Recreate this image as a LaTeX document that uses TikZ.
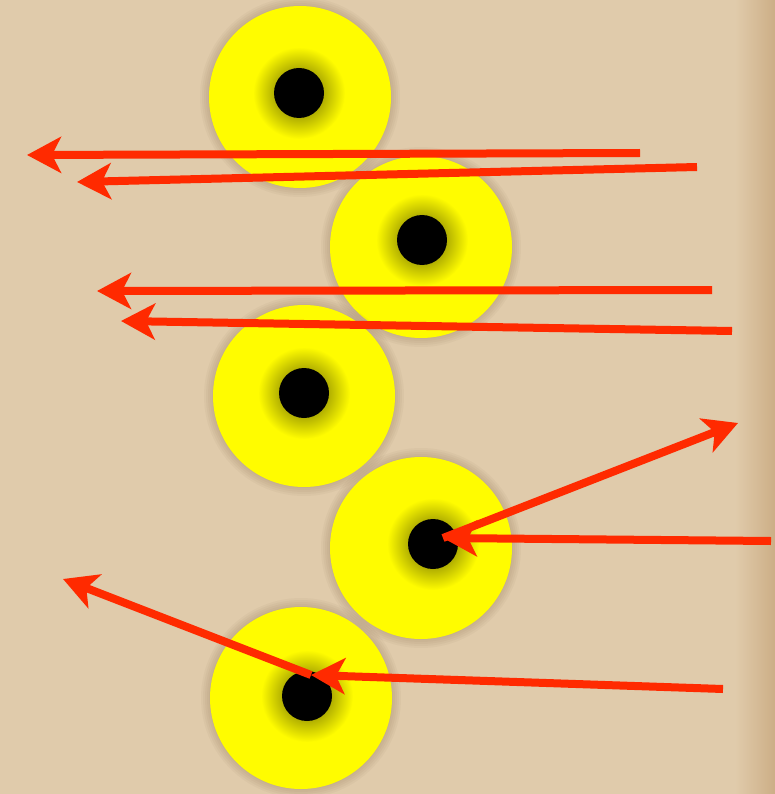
\documentclass[tikz,border=0pt]{standalone}
\usetikzlibrary{arrows.meta}
\definecolor{parchment}{RGB}{224,203,171}
\definecolor{edgebrown}{RGB}{204,174,134}
\definecolor{rayred}{RGB}{255,42,0}
\definecolor{discyellow}{RGB}{255,252,0}
\definecolor{shadowbrown}{RGB}{90,60,30}
\tikzset{
  disc/.style={circle, fill=discyellow, minimum size=182pt, inner sep=0pt},
  hole/.style={circle, fill=black, minimum size=50pt, inner sep=0pt},
  ray/.style={draw=rayred, line width=8pt, -{Stealth[length=34pt, width=36pt, inset=9pt]}},
}
\begin{document}
\begin{tikzpicture}[x=1pt, y=-1pt]
    \useasboundingbox (0,0) rectangle (775,794);
    \fill[parchment] (0,0) rectangle (775,794);
    \shade[left color=parchment, right color=edgebrown] (735,0) rectangle (775,794);

    % the discs and their holes
    \foreach \i/\cx/\cy in {1/300/97, 2/421/247, 3/304/396, 4/421/548, 5/301/698} {
        \foreach \r in {1,3,...,9}
            \fill[shadowbrown, opacity=0.04] (\cx,\cy) circle (91pt+\r pt);
        \node[disc] (c\i) at (\cx,\cy) {};
    }
    \foreach \i/\dx/\dy in {1/299/93, 2/422/240, 3/304/393, 4/433/544, 5/307/696} {
        \shade[inner color=black!65!discyellow, outer color=discyellow] (\dx,\dy) circle (46pt);
        \node[hole] (d\i) at (\dx,\dy) {};
    }

    % the rays
    \coordinate (s1) at (640,153);  \coordinate (e1) at (27,155);
    \coordinate (s2) at (697,167);  \coordinate (e2) at (77,182);
    \coordinate (s3) at (712,290);  \coordinate (e3) at (97,291);
    \coordinate (s4) at (732,331);  \coordinate (e4) at (121,321);
    \coordinate (s5) at (771,541);  \coordinate (hit4) at (443,538);
    \coordinate (e6) at (738,423);
    \coordinate (s7) at (723,689);  \coordinate (hit5) at (311,675);
    \coordinate (e8) at (63,579);
    \foreach \a/\b in {s1/e1, s2/e2, s3/e3, s4/e4, s5/hit4, hit4/e6, s7/hit5, hit5/e8}
        \draw[ray] (\a) -- (\b);
\end{tikzpicture}
\end{document}
